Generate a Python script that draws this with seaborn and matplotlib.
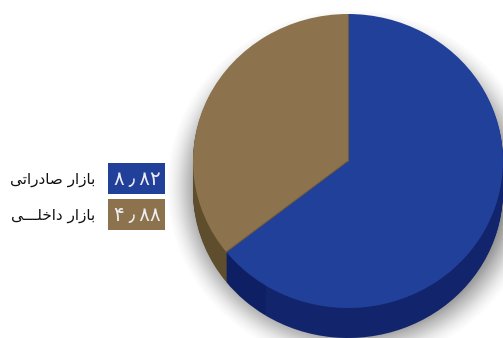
import matplotlib
matplotlib.use("Agg")
import matplotlib.pyplot as plt
from matplotlib.patches import Ellipse, Rectangle
import numpy as np
import seaborn as sns

values = [8.82, 4.88]
labels = ["بازار صادراتی", "بازار داخلـــی"]
value_labels = ["۸\u2009٫\u2009۸۲", "۴\u2009٫\u2009۸۸"]
top_colors = ["#21409A", "#8C734D"]
side_colors = ["#12246B", "#5F4E2E"]
facet_color = "#0E1F63"
facet_share = 0.74  # part of the first series' side that reads as a darker facet

W, H = 503, 338
CX, CY, RX, RY, DEPTH = 348, 161, 155, 147, 30

FORMS = {
    "ب": "\uFE8F\uFE90\uFE91\uFE92", "ت": "\uFE95\uFE96\uFE97\uFE98",
    "خ": "\uFEA5\uFEA6\uFEA7\uFEA8", "ص": "\uFEB9\uFEBA\uFEBB\uFEBC",
    "ل": "\uFEDD\uFEDE\uFEDF\uFEE0", "ی": "\uFBFC\uFBFD\uFBFE\uFBFF",
    "ا": "\uFE8D\uFE8E", "د": "\uFEA9\uFEAA", "ر": "\uFEAD\uFEAE", "ز": "\uFEAF\uFEB0",
}
def shape(s):
    out = []
    def joins_next(c):
        return c == "ـ" or len(FORMS.get(c, "")) == 4
    def joins(c):
        return c == "ـ" or c in FORMS
    for i, c in enumerate(s):
        if c not in FORMS:
            out.append(c)
            continue
        prev_j = i > 0 and joins_next(s[i - 1])
        next_j = i + 1 < len(s) and joins(s[i + 1]) and joins_next(c)
        f = FORMS[c]
        out.append(f[3] if prev_j and next_j else f[2] if next_j else f[1] if prev_j else f[0])
    return "".join(reversed(out))

sns.set_theme(style="white")
plt.rcParams["font.family"] = ["DejaVu Sans"]

fig = plt.figure(figsize=(W / 100, H / 100), dpi=100, facecolor="white")
ax = fig.add_axes([0, 0, 1, 1])

def px(x):
    return (x - CX) / RX
def py(y):
    return (CY - y) / RY

# soft shadow: many faint layers, so that the outer edge fades out
n = 40
for i in range(n):
    t = i / (n - 1)
    grow = 30 - 42 * t
    ax.add_patch(Ellipse((px(CX + 4), py(CY + 26)), 2 * (RX + grow) / RX, 2 * (RY + grow) / RY,
                         facecolor="black", edgecolor="none", alpha=0.006 + 0.028 * t, zorder=0))

# extruded side
side_vals = [values[0] - facet_share, facet_share, values[1]]
side_cols = [side_colors[0], facet_color, side_colors[1]]
for d in range(DEPTH, 0, -1):
    ax.pie(side_vals, colors=side_cols, startangle=90, counterclock=False,
           center=(0, py(CY + d)), radius=1, wedgeprops=dict(linewidth=0))

# top face
ax.pie(values, colors=top_colors, startangle=90, counterclock=False, center=(0, 0), radius=1,
       wedgeprops=dict(linewidth=0))
share = np.cumsum(values)[0] / np.sum(values)
ang = np.pi / 2 - 2 * np.pi * share
ax.plot([0, np.cos(ang)], [0, np.sin(ang)], color="#6E5A38", lw=0.7, zorder=5)
ax.plot([0, 0], [0, 1], color="#6E5A38", lw=0.7, zorder=5)

ax.set_aspect("auto")
ax.set_xlim(px(0), px(W))
ax.set_ylim(py(H), py(0))
ax.axis("off")

# legend
tops = [163, 199]
for top, col, lab, val in zip(tops, top_colors, labels, value_labels):
    ax.add_patch(Rectangle((px(108), py(top + 31)), 57 / RX, 31 / RY, facecolor=col,
                           edgecolor="none", zorder=20))
    ax.text(px(137), py(top + 16), val, color="#EDEDF2", fontsize=14.5, ha="center", va="center",
            zorder=21)
    ax.text(px(95), py(top + 16), shape(lab), color="#111111", fontsize=11, ha="right", va="center",
            zorder=21)

fig.savefig("out.png", dpi=100, facecolor="white")
